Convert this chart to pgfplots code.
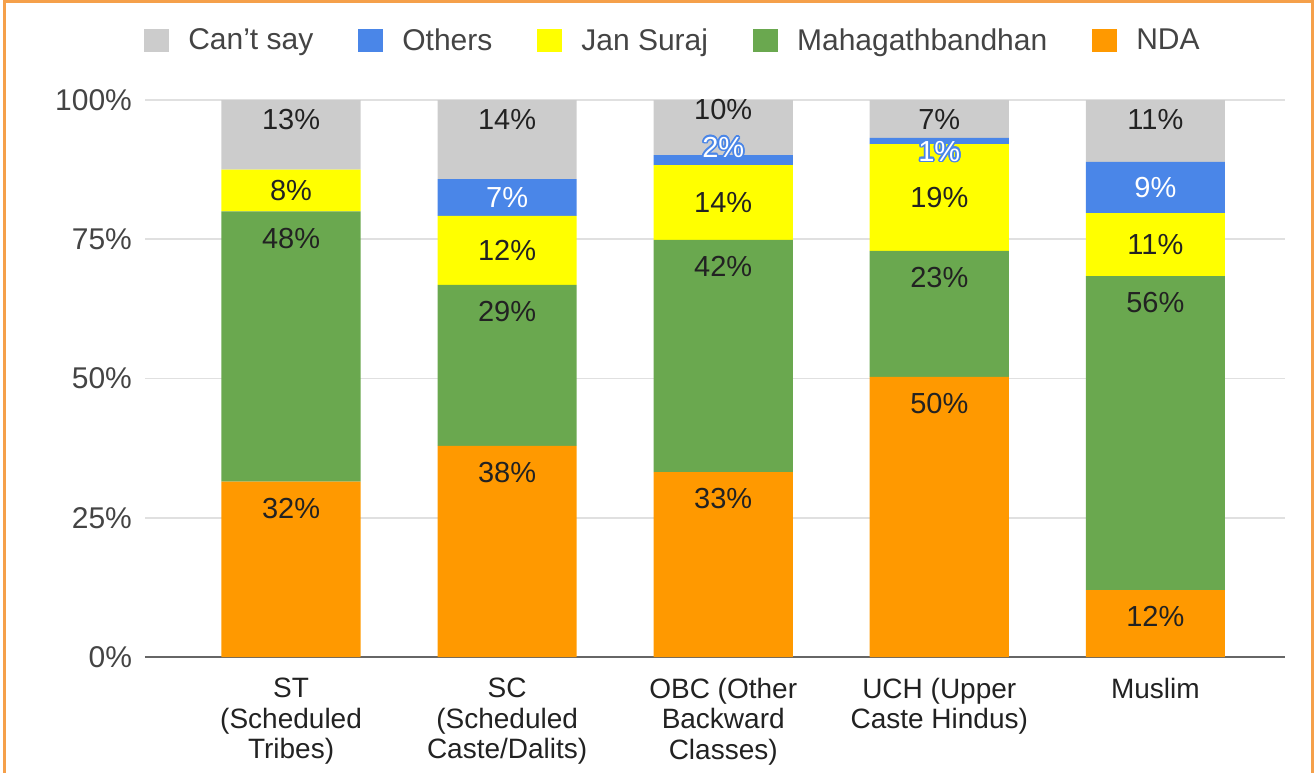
\documentclass[border=0pt]{standalone}
\usepackage{fontspec}
\setmainfont{Liberation Sans}
\usepackage{pgfplots}
\pgfplotsset{compat=1.18}
\usepackage{contour}
\contourlength{0.8pt}
\definecolor{CGray}{HTML}{CCCCCC}
\definecolor{CBlue}{HTML}{4A86E8}
\definecolor{CYellow}{HTML}{FFFF00}
\definecolor{CGreen}{HTML}{6AA84F}
\definecolor{COrange}{HTML}{FF9900}
\definecolor{CFrame}{HTML}{F5A04A}
\definecolor{CText}{HTML}{222222}
\definecolor{CTick}{HTML}{444444}
\protected\def\bo#1{\contour{CBlue}{#1}}
\begin{document}
\begin{tikzpicture}
\path[use as bounding box] (-72.5pt,-57.5pt) rectangle (585.5pt,328.5pt);
\draw[CFrame,line width=1.5pt] (-70pt,-60pt) -- (-70pt,327.5pt) -- (583.5pt,327.5pt) -- (583.5pt,-60pt);
\begin{axis}[
  scale only axis,
  width=570pt, height=278.5pt,
  ybar stacked,
  bar width=0.644,
  xmin=-0.676, xmax=4.6,
  ymin=0, ymax=100,
  xtick=data,
  xticklabels={{ST\\(Scheduled\\Tribes)},{SC\\(Scheduled\\Caste/Dalits)},{OBC (Other\\Backward\\Classes)},{UCH (Upper\\Caste Hindus)},{Muslim}},
  xticklabel style={align=center, font=\fontsize{14}{15.2}\selectfont, text=CText, yshift=-7pt},
  ytick={0,25,50,75,100},
  yticklabel={\pgfmathprintnumber{\tick}\%},
  yticklabel style={font=\fontsize{15}{17}\selectfont, text=CTick, xshift=-3pt},
  /pgf/number format/assume math mode=true,
  major tick length=0pt,
  axis line style={draw=none},
  ymajorgrids=true,
  grid style={black!12, line width=0.8pt},
  extra y ticks={0},
  extra y tick labels={},
  extra y tick style={grid style={black!60, line width=1.2pt}},
  point meta=explicit symbolic,
  visualization depends on={rawy \as \ry},
  visualization depends on={rawx \as \rx},
  nodes near coords,
  every node near coord/.append style={font=\fontsize{14.5}{16}\selectfont, text=CText, anchor=center},
  reverse legend,
  legend columns=5,
  legend style={at={(0.464,1.106)}, anchor=center, draw=none, fill=none,
    font=\fontsize{15}{17}\selectfont, text=CTick,
    /tikz/every odd column/.append style={column sep=7.5pt},
    /tikz/every even column/.append style={column sep=20.5pt}},
  legend image code/.code={\fill[#1] (0pt,-5.5pt) rectangle (12.5pt,6pt);},
]
\addplot[fill=COrange, draw=none, nodes near coords style={yshift={\ry*1.3925pt-13.25pt}}] coordinates {
  (0,31.5) [32\%] (1,37.9) [38\%] (2,33.2) [33\%] (3,50.3) [50\%] (4,12.0) [12\%]};
\addlegendentry{NDA}
\addplot[fill=CGreen, draw=none, nodes near coords style={yshift={\ry*1.3925pt-13.5pt}}] coordinates {
  (0,48.5) [48\%] (1,28.9) [29\%] (2,41.7) [42\%] (3,22.6) [23\%] (4,56.4) [56\%]};
\addlegendentry{Mahagathbandhan}
\addplot[fill=CYellow, draw=none] coordinates {
  (0,7.5) [8\%] (1,12.4) [12\%] (2,13.4) [14\%] (3,19.2) [19\%] (4,11.3) [11\%]};
\addlegendentry{Jan Suraj}
\addplot[fill=CBlue, draw=none, nodes near coords style={text=white, yshift={(\rx==2)*6pt-(\rx==3)*5.5pt}}] coordinates {
  (0,0) [ ] (1,6.6) [7\%] (2,1.8) [\bo{2\%}] (3,1.1) [\bo{1\%}] (4,9.2) [9\%]};
\addlegendentry{Others}
\addplot[fill=CGray, draw=none, nodes near coords style={yshift={\ry*1.3925pt-10pt+(\rx==2)*5pt}}] coordinates {
  (0,12.5) [13\%] (1,14.2) [14\%] (2,9.9) [10\%] (3,6.8) [7\%] (4,11.1) [11\%]};
\addlegendentry{Can\symbol{39}t say}
\end{axis}
\end{tikzpicture}
\end{document}
